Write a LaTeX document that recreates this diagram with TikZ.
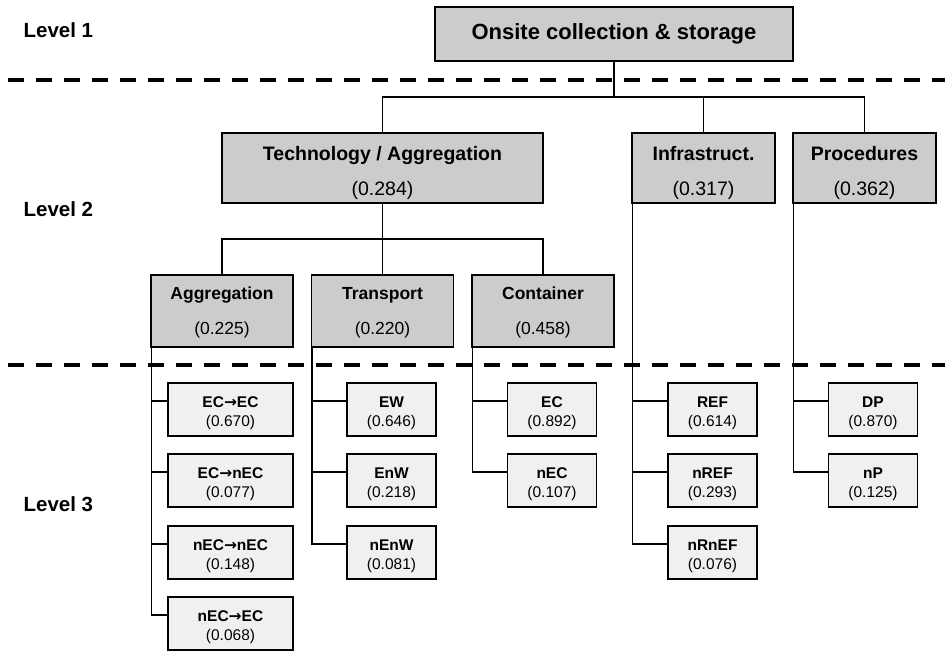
\documentclass[tikz,border=0pt]{standalone}
\usepackage{fontspec}
\setmainfont{Liberation Sans}
\newfontfamily\arrowfont{DejaVu Sans}
% strut of given height, bold name, value in brackets
\newcommand\boxtext[3]{\rule{0pt}{#1}\textbf{#2}\\(#3)}
\begin{document}
\begin{tikzpicture}
  [x=1pt,y=-1pt,line width=1.2pt,
   every node/.style={draw,inner sep=0pt,anchor=center,align=center},
   top/.style={fill=black!20,minimum width=358pt,minimum height=54pt,font=\fontsize{22}{26}\selectfont\bfseries},
   crit/.style={fill=black!20,minimum height=70pt,font=\fontsize{19.5}{35}\selectfont},
   sub/.style={fill=black!20,minimum width=142pt,minimum height=72pt,font=\fontsize{17.5}{35}\selectfont},
   leaf/.style={fill=black!6,minimum width=89pt,minimum height=53pt,font=\fontsize{15.5}{19}\selectfont},
   level/.style={draw=none,anchor=west,font=\fontsize{20.5}{24}\selectfont\bfseries},
   sep/.style={line width=4.5pt,dash pattern=on 16pt off 12pt}]
  \useasboundingbox (0,0) rectangle (945,653);

  % levels
  \draw[sep] (8,80) -- (945,80);
  \draw[sep] (8,365) -- (945,365);
  \node[level] (l1) at (23,30)  {Level 1};
  \node[level] (l2) at (23,209) {Level 2};
  \node[level] (l3) at (23,504) {Level 3};

  % level 1 and 2
  \node[top] (goal) at (614,34) {Onsite collection \& storage};
  \node[crit,minimum width=321pt] (tech)  at (382.5,168) {\boxtext{24pt}{Technology / Aggregation}{0.284}};
  \node[crit,minimum width=143pt] (infra) at (703.5,168) {\boxtext{24pt}{Infrastruct.}{0.317}};
  \node[crit,minimum width=143pt] (proc)  at (864.5,168) {\boxtext{24pt}{Procedures}{0.362}};
  \node[sub] (agg)   at (222,311)   {\boxtext{16pt}{Aggregation}{0.225}};
  \node[sub] (trans) at (382.5,311) {\boxtext{16pt}{Transport}{0.220}};
  \node[sub] (cont)  at (543,311)   {\boxtext{16pt}{Container}{0.458}};

  % level 3
  \node[leaf,minimum width=125pt] (a1) at (230.5,409.5) {\boxtext{18.5pt}{EC{\arrowfont→}EC}{0.670}};
  \node[leaf,minimum width=125pt] (a2) at (230.5,480.5) {\boxtext{18.5pt}{EC{\arrowfont→}nEC}{0.077}};
  \node[leaf,minimum width=125pt] (a3) at (230.5,552.5) {\boxtext{18.5pt}{nEC{\arrowfont→}nEC}{0.148}};
  \node[leaf,minimum width=125pt] (a4) at (230.5,623.5) {\boxtext{18.5pt}{nEC{\arrowfont→}EC}{0.068}};
  \node[leaf] (t1) at (391.5,409.5) {\boxtext{18.5pt}{EW}{0.646}};
  \node[leaf] (t2) at (391.5,480.5) {\boxtext{18.5pt}{EnW}{0.218}};
  \node[leaf] (t3) at (391.5,552.5) {\boxtext{18.5pt}{nEnW}{0.081}};
  \node[leaf] (c1) at (552,409.5) {\boxtext{18.5pt}{EC}{0.892}};
  \node[leaf] (c2) at (552,480.5) {\boxtext{18.5pt}{nEC}{0.107}};
  \node[leaf] (i1) at (712.5,409.5) {\boxtext{18.5pt}{REF}{0.614}};
  \node[leaf] (i2) at (712.5,480.5) {\boxtext{18.5pt}{nREF}{0.293}};
  \node[leaf] (i3) at (712.5,552.5) {\boxtext{18.5pt}{nRnEF}{0.076}};
  \node[leaf] (p1) at (873,409.5) {\boxtext{18.5pt}{DP}{0.870}};
  \node[leaf] (p2) at (873,480.5) {\boxtext{18.5pt}{nP}{0.125}};

  \coordinate (j1) at (614,97);
  \coordinate (j2) at (382.5,239);
  \foreach \to in {tech,infra,proc}
    \draw (goal.south) -- (j1) -| (\to.north);
  \foreach \to in {agg,trans,cont}
    \draw (tech.south) -- (j2) -| (\to.north);

  \foreach \from/\to in {agg/a1,agg/a2,agg/a3,agg/a4,trans/t1,trans/t2,trans/t3,
                         cont/c1,cont/c2,infra/i1,infra/i2,infra/i3,proc/p1,proc/p2}
    \draw ([xshift=1pt]\from.south west) |- ([yshift=8.5pt]\to.west);

\end{tikzpicture}
\end{document}
